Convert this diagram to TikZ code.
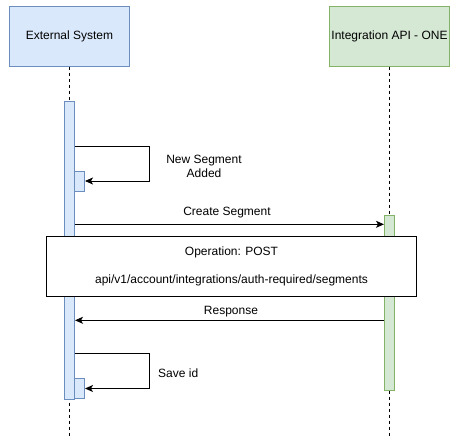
\documentclass[tikz,border=0pt]{standalone}
\usepackage{fontspec}
\setmainfont{Liberation Sans}
\usetikzlibrary{arrows.meta}
\definecolor{bfill}{HTML}{DAE8FC}
\definecolor{bdraw}{HTML}{6C8EBF}
\definecolor{gfill}{HTML}{D5E8D4}
\definecolor{gdraw}{HTML}{82B366}
\begin{document}
\begin{tikzpicture}[x=1pt,y=-1pt,
  every node/.style={font=\fontsize{12}{14}\selectfont, inner sep=0pt},
  actorbox/.style={draw, line width=1pt, minimum width=120pt, minimum height=60pt},
  lifeline/.style={line width=1pt, dash pattern=on 3pt off 3pt},
  actbar/.style={draw, line width=1pt, minimum width=10pt},
  msg/.style={line width=1pt, -{Stealth[length=8pt,width=7pt,inset=2pt]}},
  notebox/.style={draw, fill=white, line width=1pt, minimum width=370pt, minimum height=60pt, align=center}]
\useasboundingbox (0,0) rectangle (460,442);
% actors
\node[actorbox, fill=bfill, draw=bdraw] (ext) at (69.5,36) {External System};
\node[actorbox, fill=gfill, draw=gdraw] (api) at (389.5,36) {Integration API - ONE};
% lifelines
\coordinate (extend) at (69.5,437);
\coordinate (apiend) at (389.5,437);
\draw[lifeline] (ext.south) -- (extend);
\draw[lifeline] (api.south) -- (apiend);
% activations
\node[actbar, fill=bfill, draw=bdraw, minimum height=298pt] (act1) at (69.5,250) {};
\node[actbar, fill=bfill, draw=bdraw, minimum height=20pt] (sa1) at (79.5,181) {};
\node[actbar, fill=bfill, draw=bdraw, minimum height=20.4pt] (sa2) at (79.5,388.5) {};
\node[actbar, fill=gfill, draw=gdraw, minimum height=175pt] (act2) at (389.5,302.8) {};
% self message 1
\draw[msg] (act1.east |- 0,146) -- (149,146) |- (sa1.east);
\node[align=center] (l1) at (204,166) {New Segment\\Added};
% create segment
\draw[msg] (act1.east |- 0,224.3) -- (act2.west |- 0,224.3);
\node (l2) at (227,212.2) {Create Segment};
% note
\node[notebox] (note) at (231.5,266.3) {\raisebox{-2pt}{Operation: POST}\\[15pt]\raisebox{-1pt}{api/v1/account/integrations/auth-required/segments}};
% response
\draw[msg] (act2.west |- 0,320.3) -- (act1.east |- 0,320.3);
\node (l3) at (231,311.8) {Response};
% self message 2
\draw[msg] (act1.east |- 0,353.7) -- (149,353.7) |- (sa2.east);
\node[anchor=west] (l4) at (158,373.5) {Save id};
\end{tikzpicture}
\end{document}
